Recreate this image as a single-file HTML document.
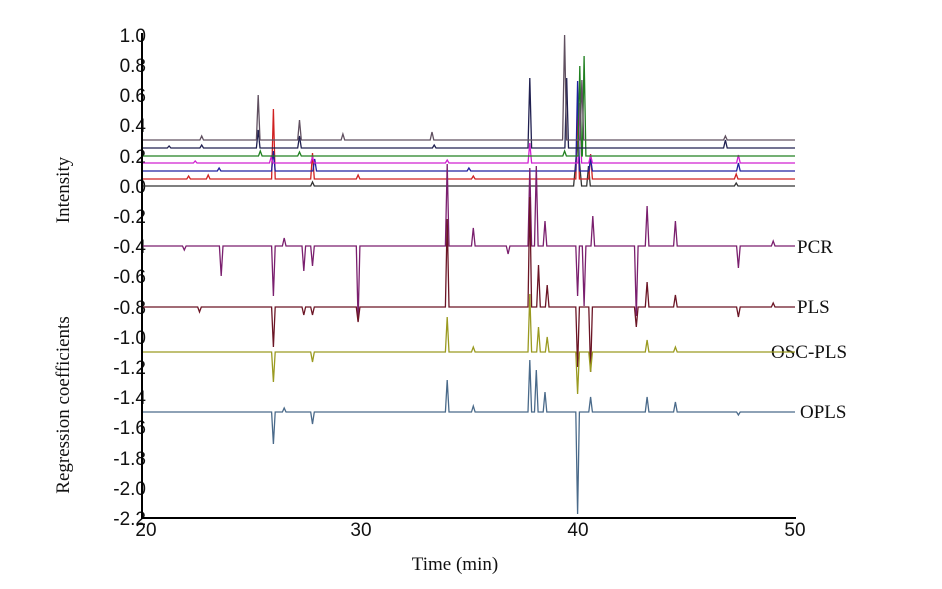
<!DOCTYPE html>
<html><head><meta charset="utf-8"><style>
body{margin:0;background:#fff}
svg{display:block}
.t{font-family:"Liberation Sans",Arial,sans-serif;font-size:19px;fill:#111}
.s{font-family:"Liberation Serif","Times New Roman",serif;font-size:19px;fill:#111}
</style></head><body>
<svg id="c" width="942" height="589" xmlns="http://www.w3.org/2000/svg">
<g class="t" text-anchor="end">
<text x="146" y="42">1.0</text><text x="146" y="72">0.8</text><text x="146" y="102">0.6</text>
<text x="146" y="132">0.4</text><text x="146" y="163">0.2</text><text x="146" y="193">0.0</text>
<text x="146" y="223">-0.2</text><text x="146" y="253">-0.4</text><text x="146" y="283">-0.6</text>
<text x="146" y="314">-0.8</text><text x="146" y="344">-1.0</text><text x="146" y="374">-1.2</text>
<text x="146" y="404">-1.4</text><text x="146" y="434">-1.6</text><text x="146" y="465">-1.8</text>
<text x="146" y="495">-2.0</text><text x="146" y="525">-2.2</text>
</g>
<g class="t" text-anchor="middle">
<text x="146" y="536">20</text><text x="361" y="536">30</text><text x="578" y="536">40</text><text x="795" y="536">50</text>
</g>
<text class="s" x="455" y="570" text-anchor="middle">Time (min)</text>
<text class="s" transform="translate(69,190) rotate(-90)" text-anchor="middle">Intensity</text>
<text class="s" transform="translate(69,405) rotate(-90)" text-anchor="middle">Regression coefficients</text>
<text class="s" x="797" y="253">PCR</text>
<text class="s" x="797" y="313">PLS</text>
<text class="s" x="771" y="358">OSC-PLS</text>
<text class="s" x="800" y="418">OPLS</text>
<g id="g"></g>
<line x1="142" y1="33" x2="142" y2="519" stroke="#000" stroke-width="2"/>
<line x1="141" y1="518" x2="796" y2="518" stroke="#000" stroke-width="2"/>
</svg>
<script>
var g=document.getElementById('g');
function X(t){return 143+(t-20)*21.73;}
function tr(b,col,pk,w){
 pk.sort(function(a,c){return a[0]-c[0]});
 var d='M143,'+b;
 pk.forEach(function(p){var x=X(p[0]);var hw=p[2]||1.8;
  d+=' L'+(x-hw).toFixed(1)+','+b+' L'+x.toFixed(1)+','+(b-p[1])+' L'+(x+hw).toFixed(1)+','+b;});
 d+=' L795,'+b;
 var e=document.createElementNS('http://www.w3.org/2000/svg','path');
 e.setAttribute('d',d);e.setAttribute('fill','none');e.setAttribute('stroke',col);e.setAttribute('stroke-width',w||1.3);
 g.appendChild(e);
}
tr(186,'#333',[[27.8,4],[40.0,45,4],[40.5,20],[47.3,3]]);
tr(179,'#d02020',[[22.1,3],[23.0,4],[26.0,70],[27.8,26],[29.9,4],[35.2,3],[40.0,70],[40.6,25],[47.3,5]]);
tr(171,'#2020a0',[[23.5,3],[26.0,20],[27.9,12],[35.0,3],[40.0,90],[40.6,12],[47.4,8]]);
tr(163,'#d020d0',[[22.4,2],[25.9,6],[27.8,6],[34.0,3],[37.8,20],[40.1,60],[40.6,8],[47.4,8]]);
tr(156,'#208020',[[25.4,5],[27.2,4],[39.4,5],[40.3,100],[40.1,90]]);
tr(148,'#202050',[[21.2,2],[22.7,3],[25.3,18],[27.2,12],[33.4,3],[37.8,70],[39.5,70],[46.8,8]]);
tr(140,'#605060',[[22.7,4],[25.3,45],[27.2,20],[29.2,6],[33.3,8],[39.4,105,2],[40.2,60],[46.8,4]]);
tr(246,'#7a1f6e',[[21.9,-4],[23.6,-30],[26.0,-50],[26.5,8],[27.4,-25],[27.8,-20],[29.9,-75],[34.0,82],[35.2,18],[36.8,-8],[37.8,78],[38.1,80],[38.5,25],[40.0,-50],[40.3,-60],[40.7,30],[42.7,-70],[43.2,40],[44.5,25],[47.4,-22],[49.0,5]]);
tr(307,'#6b1525',[[22.6,-5],[26.0,-40],[27.4,-8],[27.8,-8],[29.9,-15],[34.0,88],[37.8,110],[38.2,42],[38.6,22],[40.0,-60],[40.6,-65],[42.7,-20],[43.2,25],[44.5,12],[47.4,-10],[49.0,4]]);
tr(352,'#9a9a20',[[26.0,-30],[27.8,-10],[34.0,35],[35.2,5],[37.8,58],[38.2,25],[38.6,15],[40.0,-42],[40.6,-20],[43.2,12],[44.5,5]]);
tr(412,'#4a6a8a',[[26.0,-32],[26.5,4],[27.8,-12],[34.0,32],[35.2,6],[37.8,52],[38.1,42],[38.5,20],[40.0,-102],[40.6,15],[43.2,15],[44.5,10],[47.4,-3]]);
</script>
</body></html>
